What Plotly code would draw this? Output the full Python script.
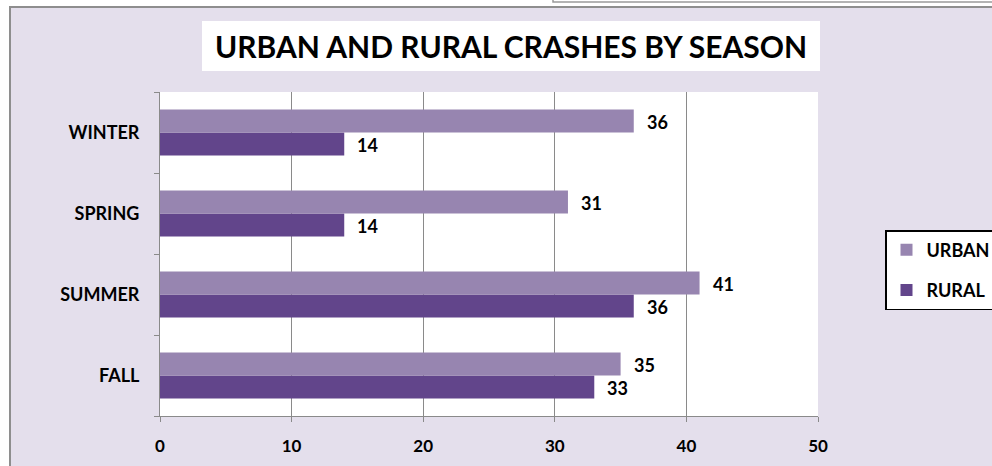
import plotly.graph_objects as go

# ---- data ----
seasons = ["WINTER", "SPRING", "SUMMER", "FALL"]
urban = [36, 31, 41, 35]
rural = [14, 14, 36, 33]
x_ticks = [0, 10, 20, 30, 40, 50]
title_text = "URBAN AND RURAL CRASHES BY SEASON"

# ---- geometry helpers (pixel -> paper) ----
W, H = 992, 466
L, R, T, B = 160, 174, 92, 50
PW, PH = W - L - R, H - T - B


def px(xp):
    return (xp - L) / PW


def py(yp):
    return (H - B - yp) / PH


FONT = "Lato, 'Open Sans', sans-serif"
LAV = "#e4dfec"
GRID = "#8a8a8a"
URBAN_C = "#9785b0"
RURAL_C = "#62458b"

fig = go.Figure()
fig.add_trace(go.Bar(
    name="RURAL", y=seasons, x=rural, orientation="h",
    marker=dict(color=RURAL_C, line=dict(width=0)),
    legendgroup="rural", legendrank=2, hoverinfo="x+y",
))
fig.add_trace(go.Bar(
    name="URBAN", y=seasons, x=urban, orientation="h",
    marker=dict(color=URBAN_C, line=dict(width=0)),
    legendgroup="urban", legendrank=1, hoverinfo="x+y",
))

annotations = []
# data labels
for s, v in zip(seasons, urban):
    annotations.append(dict(x=v, y=s, xref="x", yref="y", text=f"<b>{v}</b>",
                            showarrow=False, xanchor="left", yanchor="middle",
                            xshift=11, yshift=10.5,
                            font=dict(family=FONT, size=18, color="black")))
for s, v in zip(seasons, rural):
    annotations.append(dict(x=v, y=s, xref="x", yref="y", text=f"<b>{v}</b>",
                            showarrow=False, xanchor="left", yanchor="middle",
                            xshift=11, yshift=-12.5,
                            font=dict(family=FONT, size=18, color="black")))
# title
annotations.append(dict(x=px(511), y=py(46), xref="paper", yref="paper",
                        text=f"<b>{title_text}</b>", showarrow=False,
                        xanchor="center", yanchor="middle",
                        font=dict(family=FONT, size=30, color="black")))

shapes = [
    # white page strips outside the chart box
    dict(type="rect", xref="paper", yref="paper", x0=px(-5), x1=px(W + 5),
         y0=py(7), y1=py(-5), fillcolor="white", line=dict(width=0), layer="below"),
    dict(type="rect", xref="paper", yref="paper", x0=px(-5), x1=px(10),
         y0=py(H + 5), y1=py(-5), fillcolor="white", line=dict(width=0), layer="below"),
    # chart box border (left + top)
    dict(type="path", xref="paper", yref="paper",
         path=f"M {px(10)} {py(H + 5)} L {px(10)} {py(7)} L {px(W + 5)} {py(7)}",
         line=dict(color="#8e8e8e", width=2), layer="below"),
    # neighbouring box at the top right
    dict(type="rect", xref="paper", yref="paper", x0=px(553), x1=px(W + 5),
         y0=py(2), y1=py(-10), fillcolor="white",
         line=dict(color="#9a9a9a", width=1.5), layer="below"),
    # title box
    dict(type="rect", xref="paper", yref="paper", x0=px(202), x1=px(820),
         y0=py(71), y1=py(21), fillcolor="white", line=dict(width=0), layer="below"),
]

fig.update_layout(
    width=W, height=H,
    margin=dict(l=L, r=R, t=T, b=B, autoexpand=False),
    paper_bgcolor=LAV, plot_bgcolor="white",
    barmode="group", bargap=0.43, bargroupgap=0,
    font=dict(family=FONT, color="black"),
    showlegend=True,
    legend=dict(x=px(885), y=py(230), xanchor="left", yanchor="top",
                bgcolor="white", bordercolor="black", borderwidth=1.5,
                font=dict(family=FONT, size=18, color="black", weight="bold"),
                traceorder="grouped", tracegroupgap=14),
    xaxis=dict(range=[0, 50], tickvals=x_ticks, ticktext=[str(t) for t in x_ticks],
               showgrid=True, gridcolor=GRID, gridwidth=1, zeroline=False,
               showline=True, linecolor=GRID, linewidth=1,
               ticks="outside", ticklen=5, tickcolor=GRID,
               tickfont=dict(family=FONT, size=17, color="black", weight="bold"),
               ticklabelstandoff=10, fixedrange=True),
    yaxis=dict(type="category", categoryorder="array",
               categoryarray=list(reversed(seasons)),
               showgrid=False, zeroline=False, showline=True, linecolor=GRID, linewidth=1,
               ticks="outside", ticklen=5, tickcolor=GRID, tickson="boundaries",
               tickfont=dict(family=FONT, size=18, color="black", weight="bold"),
               ticklabelstandoff=16, fixedrange=True),
    annotations=annotations,
    shapes=shapes,
)

fig.write_html(
    "out.html",
    config={"displayModeBar": False},
    post_script="document.body.style.margin='0';document.body.style.overflow='hidden';",
)
